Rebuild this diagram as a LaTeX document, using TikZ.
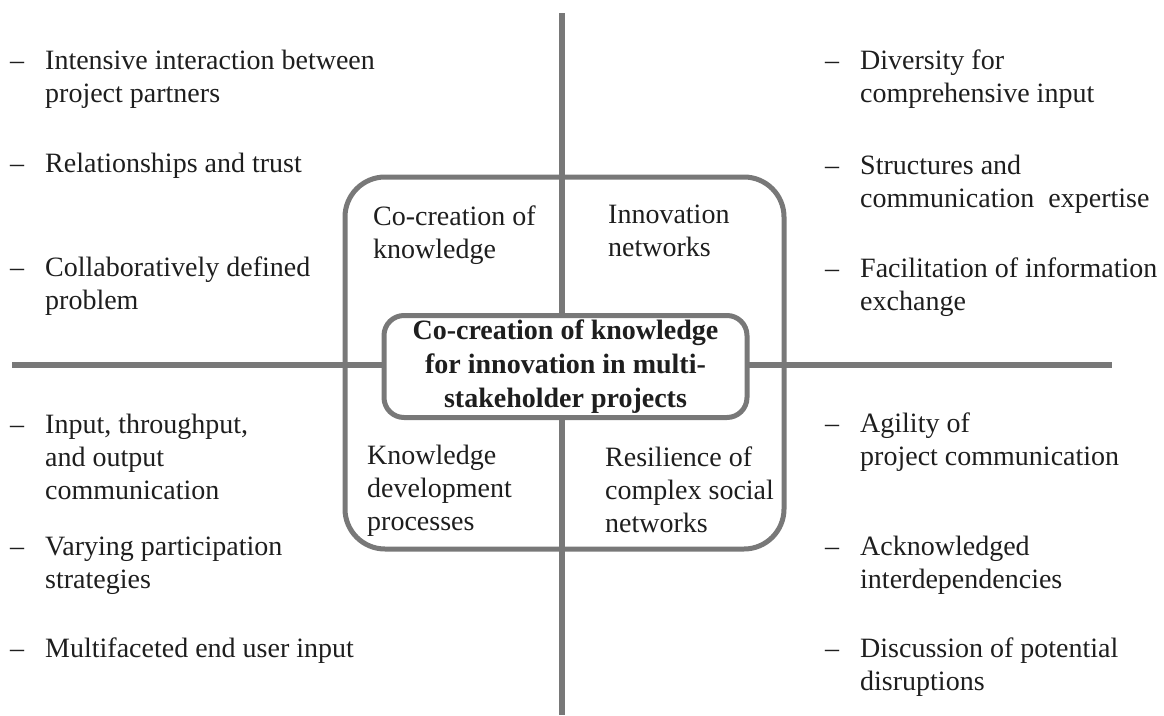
\documentclass[tikz,border=0pt]{standalone}
\usepackage{fontspec}
\setmainfont{Liberation Serif}
\definecolor{axisgray}{RGB}{120,120,120}
\definecolor{inkgray}{RGB}{30,30,30}
\newcommand{\stackl}[1]{\begin{tabular}[t]{@{}l@{}}#1\end{tabular}}
\newcommand{\stackc}[1]{\begin{tabular}[t]{@{}c@{}}#1\end{tabular}}
\newcommand{\itemdash}{\makebox[35pt][l]{--}}
\begin{document}
\begin{tikzpicture}[x=1pt,y=1pt,
  txt/.style={font=\fontsize{28}{33}\selectfont, inner sep=0pt, anchor=base west, text=inkgray},
  axisline/.style={draw=axisgray, line width=6.5pt},
  frame/.style={draw=axisgray, line width=5pt, rounded corners=40pt, minimum width=439pt, minimum height=372pt, inner sep=0pt},
  core/.style={draw=axisgray, line width=5pt, fill=white, rounded corners=20pt, minimum width=363pt, minimum height=102pt, inner sep=0pt, text=inkgray, font=\fontsize{28}{34}\selectfont\bfseries}
]
\useasboundingbox (0,0) rectangle (1164,-715);
% axes
\coordinate (vtop) at (562,-13);
\coordinate (vbot) at (562,-715);
\coordinate (hleft) at (12,-365);
\coordinate (hright) at (1112,-365);
\draw[axisline] (vtop) -- (vbot);
\draw[axisline] (hleft) -- (hright);
% outer frame
\node[frame] (outer) at (564.5,-363) {};
% central box
\node[core] (center) at (565.5,-366.5) {\stackc{Co-creation of knowledge\\for innovation in multi-\\stakeholder projects}};
% quadrant labels
\node[txt] (q1) at (373,-225) {\stackl{Co-creation of\\knowledge}};
\node[txt] (q2) at (608,-223) {\stackl{Innovation\\networks}};
\node[txt] (q3) at (367,-464) {\stackl{Knowledge\\development\\processes}};
\node[txt] (q4) at (605,-466) {\stackl{Resilience of\\complex social\\networks}};
% top left list
\node[txt] (tl1) at (10,-69) {\itemdash\stackl{Intensive interaction between\\project partners}};
\node[txt] (tl2) at (10,-172) {\itemdash\stackl{Relationships and trust}};
\node[txt] (tl3) at (10,-276) {\itemdash\stackl{Collaboratively defined\\problem}};
% top right list
\node[txt] (tr1) at (825,-69) {\itemdash\stackl{Diversity for\\comprehensive input}};
\node[txt] (tr2) at (825,-174) {\itemdash\stackl{Structures and\\communication~ expertise}};
\node[txt] (tr3) at (825,-277) {\itemdash\stackl{Facilitation of information\\exchange}};
% bottom left list
\node[txt] (bl1) at (10,-433) {\itemdash\stackl{Input, throughput,\\and output\\communication}};
\node[txt] (bl2) at (10,-555) {\itemdash\stackl{Varying participation\\strategies}};
\node[txt] (bl3) at (10,-657) {\itemdash\stackl{Multifaceted end user input}};
% bottom right list
\node[txt] (br1) at (825,-432) {\itemdash\stackl{Agility of\\project communication}};
\node[txt] (br2) at (825,-555) {\itemdash\stackl{Acknowledged\\interdependencies}};
\node[txt] (br3) at (825,-657) {\itemdash\stackl{Discussion of potential\\disruptions}};
\end{tikzpicture}
\end{document}
